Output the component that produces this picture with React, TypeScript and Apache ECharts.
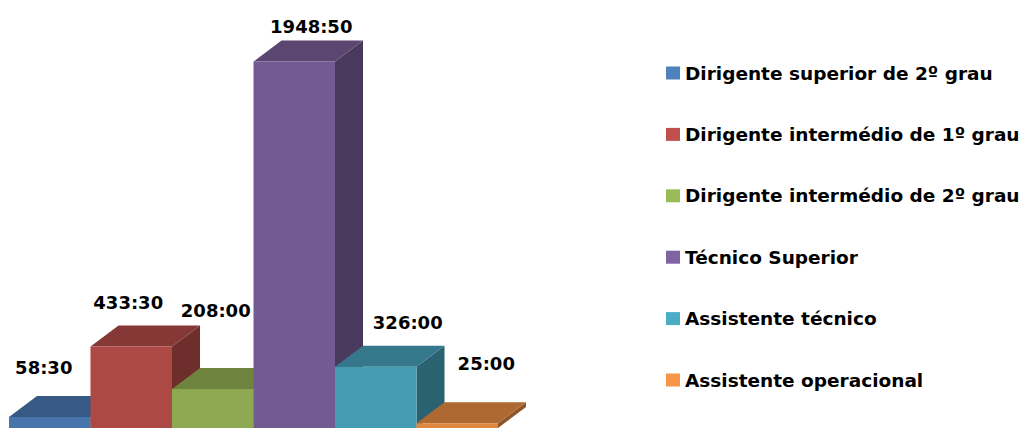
import { useEffect, useRef } from "react";
import * as echarts from "echarts";

// ---- data ----
const categories = [
  "Dirigente superior de 2º grau",
  "Dirigente intermédio de 1º grau",
  "Dirigente intermédio de 2º grau",
  "Técnico Superior",
  "Assistente técnico",
  "Assistente operacional",
];
const durations = ["58:30", "433:30", "208:00", "1948:50", "326:00", "25:00"];

// ---- style / layout config ----
const baseColors = ["#4F81BD", "#C0504D", "#9BBB59", "#8064A2", "#4BACC6", "#F79646"];
// manual nudges of the value labels (px, relative to the bar's front-top centre)
const labelNudges = [
  [-6, -50],
  [-3, -44],
  [3, -78],
  [17, -35],
  [32, -44],
  [29, -60],
];

function toHours(s: string): number {
  const [h, m] = s.split(":").map(Number);
  return h + m / 60;
}
const values = durations.map(toHours);

function shade(hex: string, k: number): string {
  const n = parseInt(hex.slice(1), 16);
  const r = Math.round(((n >> 16) & 255) * k);
  const g = Math.round(((n >> 8) & 255) * k);
  const b = Math.round((n & 255) * k);
  return `rgb(${r},${g},${b})`;
}

const DX = 28;
const DY = -21;

export default function App() {
  const ref = useRef<HTMLDivElement>(null);
  useEffect(() => {
    if (!ref.current) return;
    const chart = echarts.init(ref.current, undefined, { renderer: "svg" });
    const series = categories.map((name, i) => ({
      type: "custom",
      name,
      itemStyle: { color: baseColors[i] },
      encode: { x: 0, y: 1 },
      data: [[i, values[i]]],
      renderItem: (params: any, api: any) => {
        const si = params.seriesIndex;
        const idx = api.value(0);
        const v = api.value(1);
        const top = api.coord([idx, v]);
        const base = api.coord([idx, 0]);
        const w = api.size([1, 0])[0];
        const x0 = top[0] - w / 2;
        const x1 = top[0] + w / 2;
        const yT = top[1];
        const yB = base[1];
        const c = baseColors[si];
        return {
          type: "group",
          children: [
            {
              type: "polygon",
              shape: { points: [[x1, yT], [x1 + DX, yT + DY], [x1 + DX, yB + DY], [x1, yB]] },
              style: { fill: shade(c, 0.57) },
            },
            {
              type: "polygon",
              shape: { points: [[x0, yT], [x0 + DX, yT + DY], [x1 + DX, yT + DY], [x1, yT]] },
              style: { fill: shade(c, 0.7) },
            },
            {
              type: "rect",
              shape: { x: x0, y: yT, width: w, height: yB - yT },
              style: { fill: shade(c, 0.9) },
            },
            {
              type: "text",
              x: top[0] + labelNudges[si][0],
              y: yT + labelNudges[si][1],
              style: {
                text: durations[si],
                fill: "#000",
                fontFamily: "DejaVu Sans",
                fontWeight: "bold",
                fontSize: 18,
                align: "center",
                verticalAlign: "middle",
              },
            },
          ],
        };
      },
    }));
    chart.setOption({
      animation: false,
      backgroundColor: "#ffffff",
      grid: { left: 9, right: 538, top: 52, bottom: -4 },
      xAxis: { type: "category", data: categories, show: false, boundaryGap: true },
      yAxis: { type: "value", min: 0, max: 2000, show: false, splitLine: { show: false } },
      legend: {
        orient: "vertical",
        left: 666,
        top: 63,
        padding: 0,
        itemWidth: 14,
        itemHeight: 13,
        itemGap: 41.4,
        icon: "rect",
        data: categories,
        textStyle: {
          fontFamily: "DejaVu Sans",
          fontWeight: "bold",
          fontSize: 18.5,
          lineHeight: 20,
          color: "#000",
        },
      },
      series,
    } as any);
    return () => chart.dispose();
  }, []);
  return (
    <div
      ref={ref}
      style={{ position: "fixed", left: 0, top: 0, width: 1036, height: 428, background: "#fff" }}
    />
  );
}
